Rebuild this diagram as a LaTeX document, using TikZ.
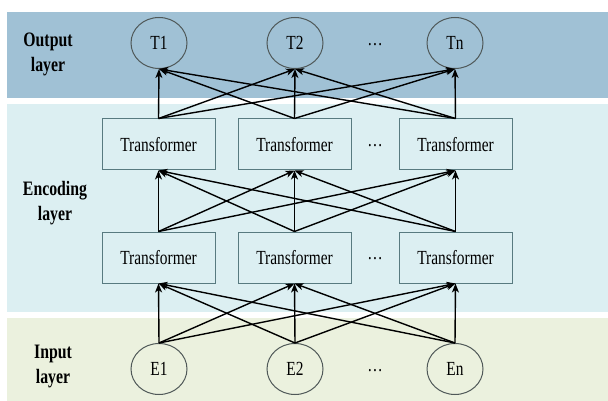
\documentclass[tikz,border=0pt]{standalone}
\usepackage{fontspec}
\setmainfont[FakeStretch=0.77]{Liberation Serif}
\usetikzlibrary{shapes.geometric,arrows.meta}
\definecolor{outband}{HTML}{A0C1D5}
\definecolor{encband}{HTML}{DCEFF2}
\definecolor{inband}{HTML}{EBF1DE}
\definecolor{boxline}{HTML}{587A80}
\definecolor{ringline}{HTML}{4F5858}
\tikzset{
  txt/.style={font=\fontsize{20}{22}\selectfont},
  unit/.style={ellipse, draw=ringline, line width=1pt, minimum width=56pt, minimum height=51pt, inner sep=0pt, txt},
  tbox/.style={rectangle, draw=boxline, line width=1pt, minimum width=113pt, minimum height=51pt, inner sep=0pt, txt},
  dots/.style={txt},
  lab/.style={font=\fontsize{20.5}{25}\selectfont\bfseries, align=center},
  link/.style={-{Stealth[length=9pt,width=7pt,inset=2.5pt]}, line width=1.4pt, black}
}
\begin{document}
\begin{tikzpicture}[x=1pt,y=-1pt]
  \useasboundingbox (0,0) rectangle (608,401);
  % background bands
  \fill[outband] (7,12) rectangle (608,98);
  \fill[encband] (7,104) rectangle (608,312);
  \fill[inband] (7,318) rectangle (608,401);

  % band labels
  \node[lab] (lout) at (48,54) {Output\\layer};
  \node[lab] (lenc) at (55,203) {Encoding\\layer};
  \node[lab] (lin) at (53,366) {Input\\layer};

  % output units
  \node[unit] (t1) at (159,43) {T1};
  \node[unit] (t2) at (295,43) {T2};
  \node[unit] (tn) at (455,43) {Tn};
  \node[dots] (dt) at (375,45) {\dots};

  % upper transformer row
  \node[tbox] (u1) at (158.5,144.5) {Transformer};
  \node[tbox] (u2) at (294.5,144.5) {Transformer};
  \node[tbox] (un) at (455.5,144.5) {Transformer};
  \node[dots] (du) at (375,146) {\dots};

  % lower transformer row
  \node[tbox] (l1) at (158.5,257.5) {Transformer};
  \node[tbox] (l2) at (294.5,257.5) {Transformer};
  \node[tbox] (ln) at (455.5,257.5) {Transformer};
  \node[dots] (dl) at (375,259) {\dots};

  % input units
  \node[unit] (e1) at (159,369) {E1};
  \node[unit] (e2) at (295,369) {E2};
  \node[unit] (en) at (455,369) {En};
  \node[dots] (de) at (375,371) {\dots};

  % full connections between consecutive layers
  \foreach \a in {e1,e2,en}
    \foreach \b in {l1,l2,ln}
      \draw[link] (\a.north) -- (\b.south);
  \foreach \a in {l1,l2,ln}
    \foreach \b in {u1,u2,un}
      \draw[link] (\a.north) -- (\b.south);
  \foreach \a in {u1,u2,un}
    \foreach \b in {t1,t2,tn}
      \draw[link] (\a.north) -- (\b.south);
\end{tikzpicture}
\end{document}
